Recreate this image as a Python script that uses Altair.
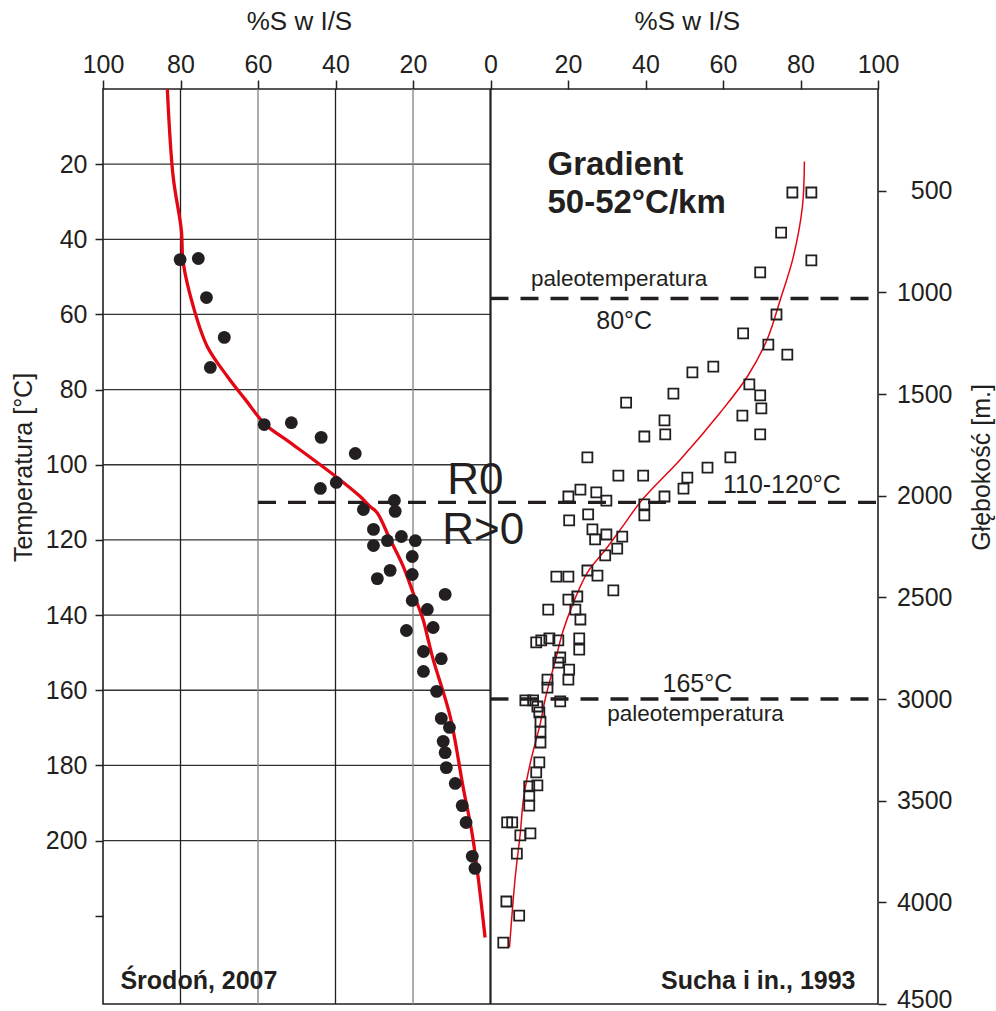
import altair as alt
import pandas as pd

# ---------------- data ----------------
# Left panel (Środoń, 2007): temperature [°C] and %S in I/S
left_T = [45.4, 45.1, 55.5, 66.1, 74.1, 89.3, 88.8, 92.7, 97.0, 106.3, 104.7, 111.9, 109.5, 112.4,
          117.2, 121.5, 120.2, 119.1, 120.2, 124.4, 129.2, 128.1, 130.3, 136.1, 134.5, 138.5, 143.3,
          144.1, 149.7, 151.6, 155.0, 160.3, 167.5, 169.9, 173.6, 176.6, 180.6, 184.8, 190.7, 195.2,
          204.2, 207.4]
left_S = [80.1, 75.4, 73.3, 68.7, 72.3, 58.4, 51.4, 43.7, 34.9, 43.9, 39.8, 32.8, 24.8, 24.6,
          30.2, 30.2, 26.6, 23.0, 19.4, 20.2, 20.2, 25.9, 29.2, 20.2, 11.7, 16.3, 14.8,
          21.7, 17.3, 12.7, 17.3, 13.9, 12.7, 10.6, 12.2, 11.7, 11.4, 9.1, 7.3, 6.3,
          4.7, 4.0]

curveL_T = [0, 23.3, 37.4, 46.2, 57.9, 68.5, 76.5, 82.6, 89.3, 94.1, 102.6, 108.4, 111.1, 112.7,
            119.9, 127.1, 134.0, 141.2, 146.5, 151.8, 167.0, 185.6, 199.7, 225.8]
curveL_S = [83.4, 81.9, 79.8, 79.3, 76.7, 73.1, 67.9, 63.3, 58.1, 51.7, 40.6, 33.7, 31.1, 29.3,
            25.9, 22.5, 20.0, 17.4, 16.1, 14.8, 10.4, 7.1, 4.5, 1.4]

# Right panel (Sucha i in., 1993): depth [m] and %S in I/S
right_D = [509, 509, 706, 843, 902, 1109, 1257, 1202, 1306, 1365, 1394, 1498, 1453, 1507, 1571,
           1542, 1606, 1630, 1699, 1709, 1699, 1812, 1812, 1862, 1901, 1901, 1911, 1965, 1970,
           1984, 2004, 2024, 2004, 2043, 2097, 2122, 2092, 2166, 2215, 2191, 2201, 2260, 2294,
           2368, 2393, 2398, 2398, 2466, 2496, 2511, 2560, 2560, 2609, 2722, 2712, 2702, 2712,
           2702, 2757, 2796, 2821, 2856, 2905, 2905, 2944, 3007, 3007, 3037, 3012, 3066, 3111,
           3160, 3214, 3312, 3361, 3425, 3430, 3475, 3524, 3607, 3607, 3671, 3661, 3760, 3996,
           4065, 4198]
right_S = [77.9, 82.8, 75.0, 82.8, 69.6, 73.8, 71.7, 65.2, 76.6, 57.5, 52.1, 47.2, 66.8, 69.6, 69.9,
           35.0, 65.0, 44.9, 45.1, 39.7, 69.6, 25.0, 61.9, 56.0, 33.0, 39.4, 50.8, 49.8, 23.2,
           27.3, 20.1, 29.9, 44.9, 39.7, 39.7, 20.3, 25.2, 26.3, 27.0, 29.9, 34.0, 32.7, 29.6,
           25.0, 27.6, 17.0, 20.1, 31.7, 22.4, 20.1, 14.9, 21.9, 23.2, 11.8, 13.1, 15.2, 17.5,
           22.9, 22.9, 18.0, 17.5, 20.3, 20.1, 14.7, 14.7, 9.0, 11.0, 12.1, 18.0, 12.6, 12.9,
           12.9, 12.9, 12.6, 11.8, 12.1, 10.0, 10.0, 10.0, 4.3, 5.6, 7.7, 10.3, 6.8, 4.1,
           7.4, 3.3]

curveR_D = [357, 578, 829, 1035, 1232, 1414, 1591, 1822, 2019, 2151, 2265, 2378, 2526,
            2673, 2806, 2993, 3116, 3312, 3494, 3657, 3873, 4222]
curveR_S = [81.0, 80.5, 78.1, 74.8, 71.4, 66.3, 59.3, 49.0, 39.2, 34.1, 29.7, 25.0, 21.4,
            18.6, 16.8, 14.2, 12.9, 10.3, 8.5, 7.7, 6.4, 4.9]

# axes / grid
x_ticks = [-100, -80, -60, -40, -20, 0, 20, 40, 60, 80, 100]
T_ticks = [20, 40, 60, 80, 100, 120, 140, 160, 180, 200, 220]
D_ticks = [500, 1000, 1500, 2000, 2500, 3000, 3500, 4000, 4500]
grid_T = [20, 40, 60, 80, 100, 120, 140, 160, 180, 200]
grid_S_dark = [80, 40]
grid_S_light = [60, 20]

# threshold lines
rule_R_T = [110]            # R0 / R>0 boundary (temperature, from 60 %S left to right edge)
rule_R_from = [-60]
paleo_D = [1030, 3000]       # paleotemperature lines in right panel (depth)

# annotations (x in signed %S units, y in temperature units)
panel_titles = ["%S w I/S", "%S w I/S"]
panel_title_x = [-49.3, 50.8]

grad_text = ["Gradient", "50-52°C/km"]
grad_x = [14.7, 14.7]
grad_T = [23.0, 32.9]

deg_text = ["80°C", "110-120°C", "165°C"]
deg_x = [34.5, 75.2, 53.4]
deg_T = [64.0, 107.4, 160.6]

paleo_text = ["paleotemperatura", "paleotemperatura"]
paleo_x = [33.2, 52.9]
paleo_T = [52.3, 168.3]

r_text = ["R0", "R>0"]
r_x = [-3.9, -1.9]
r_T = [107.9, 121.2]

src_left = ["Środoń, 2007"]
src_left_x = [-95.5]
src_right = ["Sucha i in., 1993"]
src_right_x = [94.2]
src_T = [239.6]

# ---------------- styling ----------------
FONT = "Liberation Sans"
DARK = "#231f20"
RED = "#e30613"

XS = alt.Scale(domain=[-100, 100], nice=False, zero=False)
TS = alt.Scale(domain=[0, 243.5], nice=False, zero=False, reverse=True)
DS = alt.Scale(domain=[0, 4500], nice=False, zero=False, reverse=True)


def xq(field):
    return alt.X(field, type="quantitative", scale=XS)


def tq(field):
    return alt.Y(field, type="quantitative", scale=TS)


def dq(field):
    return alt.Y(field, type="quantitative", scale=DS)


def text_layer(texts, xs, ys, **style):
    df = pd.DataFrame({"t": texts, "x": xs, "y": ys})
    return alt.Chart(df).mark_text(font=FONT, color=DARK, **style).encode(
        x=xq("x"), y=tq("y"), text="t:N")


# ---------------- temperature group ----------------
axis_df = pd.DataFrame({"x": [-100, 100], "T": [0, 243.5]})
axes_T = alt.Chart(axis_df).mark_point(opacity=0).encode(
    x=alt.X("x:Q", scale=XS, axis=alt.Axis(
        orient="top", values=x_ticks, labelExpr="abs(datum.value)", title="",
        domain=False, grid=False, ticks=True, tickSize=9, tickWidth=1.5, tickColor=DARK,
        labelFont=FONT, labelFontSize=25, labelColor=DARK, labelPadding=3,
        labelFlush=False, labelOverlap=False)),
    y=alt.Y("T:Q", scale=TS, axis=alt.Axis(
        orient="left", values=T_ticks,
        labelExpr="datum.value == 220 ? '' : datum.label",
        title="Temperatura [°C]", titleFont=FONT, titleFontSize=25, titleFontWeight="normal",
        titleColor=DARK, titleAngle=270, titleX=-80, titleY=378, titleAlign="center",
        titleBaseline="middle",
        domain=False, grid=False, tickSize=8, tickWidth=1.5, tickColor=DARK,
        labelFont=FONT, labelFontSize=25, labelColor=DARK, labelPadding=8,
        labelOverlap=False)),
)

grid_h = alt.Chart(pd.DataFrame({"T": grid_T, "x0": [-100] * len(grid_T), "x1": [0] * len(grid_T)})
                   ).mark_rule(color="#333333", strokeWidth=1.3).encode(
    y=tq("T"), x=xq("x0"), x2="x1:Q")
grid_v_dark = alt.Chart(pd.DataFrame({"S": grid_S_dark})).transform_calculate(
    x="-datum.S").mark_rule(color=DARK, strokeWidth=1.3).encode(x=xq("x"))
grid_v_light = alt.Chart(pd.DataFrame({"S": grid_S_light})).transform_calculate(
    x="-datum.S").mark_rule(color="#8a8a8a", strokeWidth=1.4).encode(x=xq("x"))

divider = alt.Chart(pd.DataFrame({"x": [0]})).mark_rule(color=DARK, strokeWidth=2.2).encode(
    x=xq("x"))

rule_R = alt.Chart(pd.DataFrame({"T": rule_R_T, "x0": rule_R_from, "x1": [100]})).mark_rule(
    color=DARK, strokeWidth=3.4, strokeDash=[18, 12]).encode(
    y=tq("T"), x=xq("x0"), x2="x1:Q")

left_df = pd.DataFrame({"T": left_T, "S": left_S})
left_pts = alt.Chart(left_df).transform_calculate(x="-datum.S").mark_circle(
    size=165, color=DARK, opacity=1).encode(x=xq("x"), y=tq("T"))

curveL_df = pd.DataFrame({"T": curveL_T, "S": curveL_S})
curveL = alt.Chart(curveL_df).transform_calculate(x="-datum.S").mark_line(
    color=RED, strokeWidth=3.3, interpolate="catmull-rom").encode(
    x=xq("x"), y=tq("T"), order=alt.Order("T:Q"))

titles_df = pd.DataFrame({"t": panel_titles, "x": panel_title_x})
titles = alt.Chart(titles_df).mark_text(font=FONT, fontSize=26, color=DARK, baseline="middle").encode(
    x=xq("x"), y=alt.value(-67), text="t:N")

txt_grad = text_layer(grad_text, grad_x, grad_T, fontSize=33, fontWeight="bold",
                      align="left", baseline="alphabetic")
txt_deg = text_layer(deg_text, deg_x, deg_T, fontSize=25, align="center", baseline="alphabetic")
txt_paleo = text_layer(paleo_text, paleo_x, paleo_T, fontSize=22.5, align="center",
                       baseline="alphabetic")
txt_r = text_layer(r_text, r_x, r_T, fontSize=44, align="center", baseline="alphabetic")
txt_srcL = text_layer(src_left, src_left_x, src_T, fontSize=25, fontWeight="bold",
                      align="left", baseline="alphabetic")
txt_srcR = text_layer(src_right, src_right_x, src_T, fontSize=25, fontWeight="bold",
                      align="right", baseline="alphabetic")

temp_group = alt.layer(axes_T, grid_h, grid_v_light, grid_v_dark, divider, rule_R, curveL,
                       left_pts, titles, txt_grad, txt_deg, txt_paleo, txt_r, txt_srcL, txt_srcR)

# ---------------- depth group ----------------
axis_d_df = pd.DataFrame({"x": [0, 100], "D": [0, 4500]})
axes_D = alt.Chart(axis_d_df).mark_point(opacity=0).encode(
    x=xq("x"),
    y=alt.Y("D:Q", scale=DS, axis=alt.Axis(
        orient="right", values=D_ticks, format="d", title="Głębokość [m.]", titleFont=FONT,
        titleFontSize=25, titleFontWeight="normal", titleColor=DARK, titleAngle=270,
        titleX=103, titleY=378, titleAlign="center", titleBaseline="middle",
        domain=False, grid=False, tickSize=8, tickWidth=1.5, tickColor=DARK,
        labelFont=FONT, labelFontSize=25, labelColor=DARK, labelAlign="right",
        labelPadding=66, labelOverlap=False,
        labelOffset={"condition": {"test": "datum.value == 4500", "value": -5}, "value": 0})),
)

paleo_rules = alt.Chart(pd.DataFrame({"D": paleo_D, "x0": [0, 0], "x1": [100, 100]})).mark_rule(
    color=DARK, strokeWidth=3.4, strokeDash=[18, 12]).encode(
    y=dq("D"), x=xq("x0"), x2="x1:Q")

curveR_df = pd.DataFrame({"D": curveR_D, "S": curveR_S})
curveR = alt.Chart(curveR_df).mark_line(color=RED, strokeWidth=1.5, interpolate="catmull-rom").encode(
    x=xq("S"), y=dq("D"), order=alt.Order("D:Q"))

right_df = pd.DataFrame({"D": right_D, "S": right_S})
right_pts = alt.Chart(right_df).mark_point(
    shape="square", filled=False, size=100, strokeWidth=1.8, color=DARK, opacity=1).encode(
    x=xq("S"), y=dq("D"))

depth_group = alt.layer(axes_D, paleo_rules, curveR, right_pts)

chart = alt.layer(temp_group, depth_group).resolve_scale(y="independent").properties(
    width=775, height=915,
    autosize=alt.AutoSizeParams(type="none"),
    padding={"left": 103, "top": 89, "right": 118, "bottom": 7},
    background="white",
).configure_view(stroke=DARK, strokeWidth=1.6)

chart.save("out.html", embed_options={"renderer": "svg", "actions": False})
